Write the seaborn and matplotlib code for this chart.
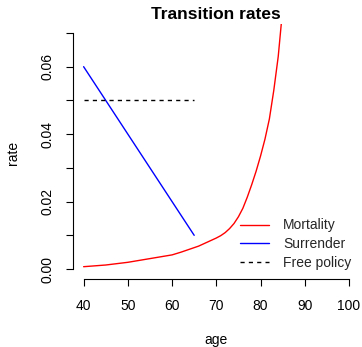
import matplotlib
matplotlib.use("Agg")
import matplotlib.pyplot as plt
import seaborn as sns
import pandas as pd
from matplotlib.lines import Line2D

# ---- data ----
mort_age = [40, 45, 50, 55, 60, 62, 64, 66, 68, 70, 71, 72, 73, 74, 75, 76, 77, 78, 79, 80,
            81, 82, 83, 84, 85]
mort_rate = [0.0007, 0.0012, 0.0020, 0.0031, 0.0042, 0.0050, 0.0059, 0.0068, 0.0080, 0.0092,
             0.0099, 0.0108, 0.0120, 0.0135, 0.0155, 0.0180, 0.0213, 0.0250, 0.0290, 0.0335,
             0.0385, 0.0445, 0.0530, 0.0630, 0.0770]
surr_age = [40, 65]
surr_rate = [0.06, 0.01]
free_age = [40, 65]
free_rate = [0.05, 0.05]
series_names = ["Mortality", "Surrender", "Free policy"]
x_ticks = [40, 50, 60, 70, 80, 90, 100]
y_ticks = [0.00, 0.01, 0.02, 0.03, 0.04, 0.05, 0.06, 0.07]
y_labels = ["0.00", "", "0.02", "", "0.04", "", "0.06", ""]

sns.set_theme(style="white")
plt.rcParams["font.family"] = ["Liberation Sans", "DejaVu Sans"]

W, H = 362, 347
fig = plt.figure(figsize=(W / 100, H / 100), dpi=100)
L, R, T, B = 73, 359.6, 23.5, 278.5
ax = fig.add_axes([L / W, 1 - B / H, (R - L) / W, (B - T) / H])

mort = pd.DataFrame({"age": mort_age, "rate": mort_rate})
surr = pd.DataFrame({"age": surr_age, "rate": surr_rate})
free = pd.DataFrame({"age": free_age, "rate": free_rate})

sns.lineplot(data=mort, x="age", y="rate", ax=ax, color="#ff0000", lw=1.0)
sns.lineplot(data=surr, x="age", y="rate", ax=ax, color="#0000ff", lw=1.0)
sns.lineplot(data=free, x="age", y="rate", ax=ax, color="black", lw=1.0, dashes=False)
ax.lines[-1].set_dashes((3, 3))

ax.set_xlim(37.6, 102.4)
ax.set_ylim(-0.0028, 0.0728)

for s in ["top", "right"]:
    ax.spines[s].set_visible(False)
for s in ["left", "bottom"]:
    ax.spines[s].set_color("black")
    ax.spines[s].set_linewidth(0.8)
ax.spines["bottom"].set_bounds(40, 100)
ax.spines["left"].set_bounds(0.0, 0.07)

ax.set_xticks(x_ticks)
ax.set_xticklabels([str(v) for v in x_ticks])
ax.set_yticks(y_ticks)
ax.set_yticklabels(y_labels, rotation=90, va="center")
ax.tick_params(axis="both", which="major", direction="out", length=5, width=0.8,
               color="black", labelsize=10, labelcolor="black")
ax.tick_params(axis="x", pad=10, bottom=True)
ax.tick_params(axis="y", pad=8, left=True)

ax.set_xlabel("age", fontsize=10, color="black")
ax.set_ylabel("rate", fontsize=10, color="black")
ax.xaxis.set_label_coords((216 - L) / (R - L), (B - 340) / (B - T))
ax.yaxis.set_label_coords((13 - L) / (R - L), (B - 153) / (B - T))
ax.xaxis.label.set_va("center")
ax.yaxis.label.set_va("center")

ax.set_title("Transition rates", fontsize=12.5, fontweight="bold", color="black", pad=3)

handles = [Line2D([], [], color="#ff0000", lw=1.0),
           Line2D([], [], color="#0000ff", lw=1.0),
           Line2D([], [], color="black", lw=1.0, dashes=(3, 3))]
leg = ax.legend(handles, series_names, loc="lower right", frameon=False, fontsize=10,
                handlelength=2.1, handletextpad=1.0, labelspacing=0.35,
                borderaxespad=0.3, borderpad=0.3)

ax.grid(False)
fig.savefig("out.png", dpi=100)
